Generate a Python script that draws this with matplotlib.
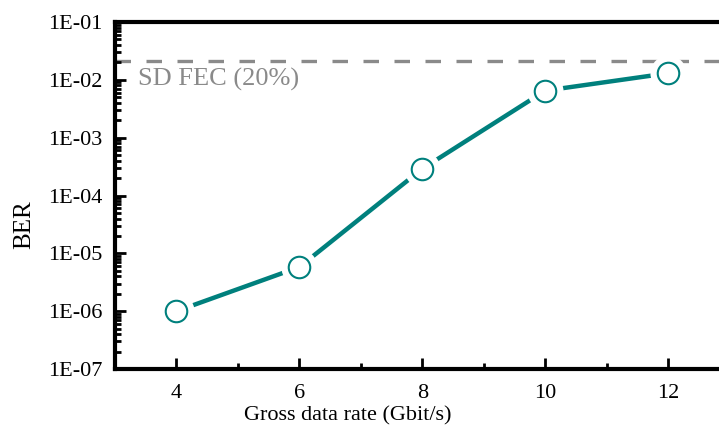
import math
import matplotlib
matplotlib.use("Agg")
import matplotlib.pyplot as plt
from matplotlib.ticker import LogLocator, FixedLocator, NullFormatter, FuncFormatter

rate = [4, 6, 8, 10, 12]
ber = [1.0e-6, 5.8e-6, 2.9e-4, 6.5e-3, 1.3e-2]
fec_threshold = 2.1e-2
fec_label = "SD FEC (20%)"
x_ticks = [4, 6, 8, 10, 12]

plt.rcParams['font.family'] = ['Liberation Serif', 'DejaVu Serif']

fig = plt.figure(figsize=(7.19, 4.28), dpi=100)
ax = fig.add_axes([115 / 719, 59 / 428, 1 - 115 / 719 + 0.002, 347 / 428])

teal = '#00807d'
gray = '#8a8a8a'
ax.axhline(fec_threshold, color=gray, lw=2.4, ls=(0, (4.65, 4.65)), zorder=1)
ax.text(3.37, 1.0e-2, fec_label, color=gray, fontsize=19, va='center', ha='left')
ax.plot(rate, ber, color=teal, lw=3.2, zorder=2, solid_capstyle='butt')
ax.plot(rate, ber, ls='none', marker='o', ms=26, mfc='white', mec='white', mew=0, zorder=3)
ax.plot(rate, ber, ls='none', marker='o', ms=15.5, mfc='white', mec=teal, mew=1.5, zorder=4)

ax.set_yscale('log')
ax.set_ylim(1e-7, 1e-1)
ax.set_xlim(3, 12.85)
ax.set_xticks(x_ticks)
ax.xaxis.set_minor_locator(FixedLocator([5, 7, 9, 11]))
ax.yaxis.set_major_locator(LogLocator(base=10, numticks=10))
ax.yaxis.set_minor_locator(LogLocator(base=10, subs=range(2, 10), numticks=20))
ax.yaxis.set_minor_formatter(NullFormatter())
ax.yaxis.set_major_formatter(FuncFormatter(lambda v, p: "1E-%02d" % round(-math.log10(v))))

ax.tick_params(which='both', direction='in', labelsize=16, width=2)
ax.tick_params(which='major', length=8)
ax.tick_params(which='minor', length=4)
ax.tick_params(axis='x', pad=11)
ax.tick_params(axis='y', pad=9)
for s in ['left', 'bottom', 'top']:
    ax.spines[s].set_linewidth(3)
ax.spines['right'].set_visible(False)

fig.text(348 / 719, (428 - 420) / 428, 'Gross data rate (Gbit/s)', fontsize=16,
         ha='center', va='baseline')
fig.text(24 / 719, (428 - 225) / 428, 'BER', fontsize=18, rotation=90,
         ha='center', va='center')

fig.savefig('out.png', dpi=100)
